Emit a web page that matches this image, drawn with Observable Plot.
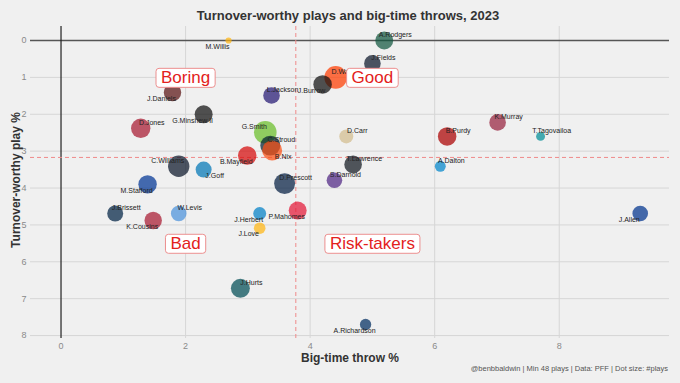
<!DOCTYPE html>
<html><head><meta charset="utf-8">
<script src="https://cdn.jsdelivr.net/npm/d3@7"></script>
<script src="https://cdn.jsdelivr.net/npm/@observablehq/plot@0.6"></script>
<style>
html,body{margin:0;padding:0;background:#f0f0f0;}
#chart{width:680px;height:383px;}
</style></head><body><div id="chart"></div>
<script>
// ---- data ----
const players = ["A.Rodgers","M.Willis","J.Fields","D.Watson","J.Burrow","J.Daniels","L.Jackson","G.Minshew II","D.Jones","G.Smith","C.Stroud","B.Nix","B.Mayfield","C.Williams","J.Goff","M.Stafford","D.Prescott","J.Brissett","K.Cousins","W.Levis","J.Herbert","P.Mahomes","J.Love","D.Carr","B.Purdy","T.Lawrence","S.Darnold","A.Dalton","K.Murray","T.Tagovailoa","J.Allen","J.Hurts","A.Richardson"];
const bttPct = [5.19,2.69,5.00,4.41,4.20,1.79,3.38,2.29,1.28,3.28,3.36,3.39,2.99,1.89,2.29,1.39,3.59,0.87,1.48,1.89,3.19,3.80,3.19,4.58,6.20,4.69,4.39,6.09,7.01,7.70,9.30,2.88,4.89];
const twpPct = [0.00,0.00,0.62,1.00,1.19,1.41,1.49,2.00,2.38,2.49,2.85,2.98,3.12,3.41,3.50,3.90,3.88,4.69,4.88,4.69,4.69,4.61,5.09,2.60,2.60,3.36,3.79,3.41,2.22,2.60,4.69,6.72,7.70];
const plays = [405,48,345,640,430,380,345,405,470,640,500,500,430,570,320,425,550,320,380,305,210,405,170,245,430,390,305,150,345,100,305,450,160];
const teams = ["NYJ","GB","CHI","CLE","CIN","WAS","BAL","LV","NYG","SEA","HOU","DEN","TB","CHI","DET","LA","DAL","NE","ATL","TEN","LAC","KC","GB","NO","SF","JAX","MIN","CAR","ARI","MIA","BUF","PHI","IND"];
const labelSide = ["ur","ll","ur","ur","ll","ll","ur","ll","ur","ul","ur","lr","ll","ul","lr","ll","ur","ur","ll","ur","ll","ll","ll","ur","ur","ur","ur","ur","ur","ur","ll","ur","ll"];
const teamColors = {NYJ:"#125740",GB:"#ffb612",CHI:"#0b162a",CLE:"#ff3c00",CIN:"#111111",WAS:"#5a1414",BAL:"#241773",LV:"#111111",NYG:"#a71930",SEA:"#69be28",HOU:"#03202f",DEN:"#fb4f14",TB:"#d50a0a",DET:"#0076b6",LA:"#003594",DAL:"#041e42",NE:"#002244",ATL:"#a71930",TEN:"#4b92db",LAC:"#0080c6",KC:"#e31837",NO:"#d3bc8d",SF:"#aa0000",JAX:"#101820",MIN:"#4f2683",CAR:"#0085ca",ARI:"#97233f",MIA:"#008e97",BUF:"#00338d",PHI:"#004c54",IND:"#002c5f"};
const xTicks = [0,2,4,6,8];
const yTicks = [0,1,2,3,4,5,6,7,8];
const meanBtt = 3.77;
const meanTwp = 3.17;
const quadLabels = ["Boring","Good","Bad","Risk-takers"];
const quadBtt = [2,5,2,5];
const quadTwp = [1,1,5.5,5.5];
const titleText = "Turnover-worthy plays and big-time throws, 2023";
const xLabel = "Big-time throw %";
const yLabel = "Turnover-worthy play %";
const captionText = "@benbbaldwin | Min 48 plays | Data: PFF | Dot size: #plays";

// ---- build ----
const data = players.map((p,i)=>({name:p, btt:bttPct[i], twp:twpPct[i], plays:plays[i], color:teamColors[teams[i]], side:labelSide[i]}));
const quads = quadLabels.map((t,i)=>({text:t, x:quadBtt[i], y:quadTwp[i]}));
const font = "'Liberation Sans', Arial, sans-serif";
const sides = {ur:[11,-5.5], ul:[-11,-5.5], lr:[11,6], ll:[-11,6]};

const marks = [
  Plot.ruleY(yTicks.filter(d=>d!==0), {y:d=>d, stroke:"#d6d6d6", strokeWidth:1}),
  Plot.ruleX(xTicks.filter(d=>d!==0), {x:d=>d, stroke:"#d6d6d6", strokeWidth:1}),
  Plot.ruleY([0], {stroke:"#555", strokeWidth:1.6}),
  Plot.ruleX([0], {stroke:"#222", strokeWidth:1.2}),
  Plot.ruleX([meanBtt], {stroke:"#ef8a8a", strokeDasharray:"4,3", strokeWidth:1}),
  Plot.ruleY([meanTwp], {stroke:"#ef8a8a", strokeDasharray:"4,3", strokeWidth:1}),
  Plot.dot(data, {x:"btt", y:"twp", r:"plays", fill:"color", fillOpacity:0.72, stroke:null, sort:null}),
  ...Object.entries(sides).map(([k,[dx,dy]]) => Plot.text(data.filter(d=>d.side===k), {x:"btt", y:"twp", text:"name", dx, dy, fontSize:7, fill:"#222", textAnchor:"middle"})),
  Plot.text(quads, {x:"x", y:"y", text:"text", fontSize:17, fill:"#e3211c", className:"quad"}),
  Plot.axisX(xTicks, {tickSize:0, tickPadding:4, fontSize:9, fill:"#8a8a8a", label:null}),
  Plot.axisY(yTicks, {tickSize:0, tickPadding:4, fontSize:9, fill:"#8a8a8a", label:null})
];

const plot = Plot.plot({
  width:680, height:383,
  marginTop:26, marginBottom:45, marginLeft:30, marginRight:11,
  style:{background:"#f0f0f0", fontFamily:font, overflow:"visible"},
  x:{domain:[-0.49,9.77]},
  y:{domain:[-0.38,8.08], reverse:true},
  r:{type:"sqrt", domain:[0,640], range:[0,11.3]},
  color:{type:"identity"},
  marks
});
document.getElementById("chart").appendChild(plot);

const svg = d3.select(plot);
// white boxes behind quadrant labels
svg.selectAll("g.quad text").each(function(){
  const b = this.getBBox();
  const t = this.getAttribute("transform");
  const r = d3.select(this.parentNode).insert("rect", () => this)
    .attr("x", b.x-5).attr("y", b.y+0.5).attr("width", b.width+10).attr("height", b.height)
    .attr("rx", 3).attr("fill", "#ffffff").attr("stroke", "#ec8f8f").attr("stroke-width", 1);
  if (t) r.attr("transform", t);
});
svg.append("text").attr("x", 348).attr("y", 20).attr("text-anchor","middle")
  .attr("font-size", 13).attr("font-weight","bold").attr("fill","#333").attr("font-family", font).text(titleText);
svg.append("text").attr("x", 350).attr("y", 362).attr("text-anchor","middle")
  .attr("font-size", 12).attr("font-weight","bold").attr("fill","#333").attr("font-family", font).text(xLabel);
svg.append("text").attr("transform","translate(20,180) rotate(-90)").attr("text-anchor","middle")
  .attr("font-size", 12).attr("font-weight","bold").attr("fill","#333").attr("font-family", font).text(yLabel);
svg.append("text").attr("x", 668).attr("y", 371).attr("text-anchor","end")
  .attr("font-size", 7.5).attr("fill","#555").attr("font-family", font).text(captionText);
</script></body></html>
